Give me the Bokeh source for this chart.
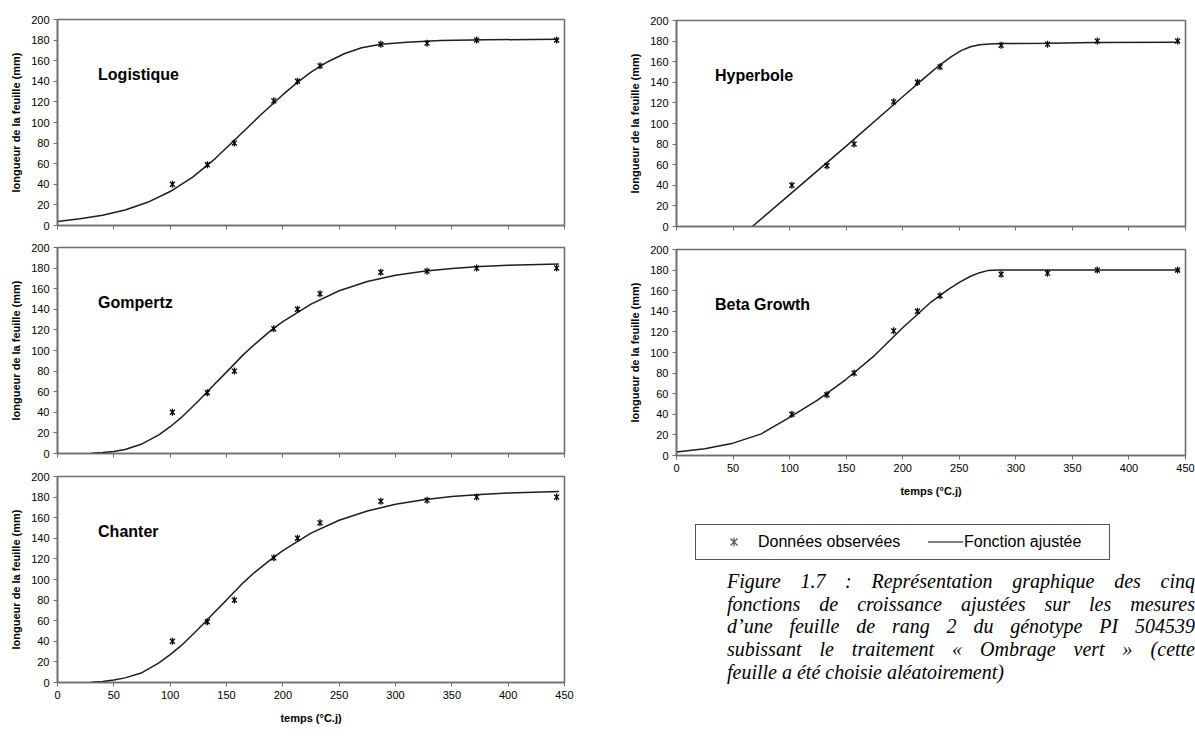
import math
from bokeh.plotting import figure
from bokeh.models import Range1d, FixedTicker, Label, Div
from bokeh.layouts import column, row
from bokeh.embed import file_html
from bokeh.resources import INLINE

# ---------------- data ----------------
obs_x = [102, 133, 157, 192, 213, 233, 287, 328, 372, 443]
obs_y = [40, 59, 80, 121, 140, 155, 176, 177, 180, 180]

log_x = [0, 20, 40, 60, 80, 100, 120, 140, 160, 180, 200, 213, 225, 240, 255, 270, 287, 310, 340, 380, 445]
log_y = [4, 6.5, 10, 15, 22.5, 33, 47, 65, 86, 107, 127, 139, 149, 159, 167, 172.5, 176, 178, 179.5, 180.3, 180.8]

gomp_x = [30, 40, 50, 60, 75, 90, 100, 110, 125, 140, 150, 165, 175, 190, 200, 225, 250, 275, 300, 325, 350, 375, 400, 445]
gomp_y = [0.3, 0.9, 2, 3.9, 9.3, 18, 26, 35, 51, 68, 79, 96, 106, 120, 128, 145, 158, 167, 173, 177, 179.7, 181.5, 182.7, 184]

chan_x = [30, 40, 50, 60, 75, 90, 100, 110, 125, 140, 150, 165, 175, 190, 200, 225, 250, 275, 300, 325, 350, 375, 400, 445]
chan_y = [0.3, 1, 2.5, 4.5, 9.5, 19, 27, 36, 52, 69, 80, 97, 107, 120, 128, 145, 157.5, 166.5, 173, 177.5, 180.5, 182.5, 184, 185.5]

hyp_x = [67, 100, 150, 200, 220, 233, 243, 252, 260, 268, 277, 290, 330, 370, 445]
hyp_y = [0, 31, 78, 126, 145, 157, 165, 171, 174.5, 176.5, 177.3, 177.6, 178, 178.6, 179]

beta_x = [0, 25, 50, 75, 100, 125, 150, 175, 200, 225, 240, 250, 260, 268, 275, 285, 445]
beta_y = [3.5, 6.5, 12, 21, 37, 54, 74, 97, 124, 149, 161, 168, 174, 177.5, 179.5, 180, 180]

x_ticks = [0, 50, 100, 150, 200, 250, 300, 350, 400, 450]
y_ticks = [0, 20, 40, 60, 80, 100, 120, 140, 160, 180, 200]

y_label = "longueur de la feuille (mm)"
x_label = "temps (°C.j)"
legend_labels = ["Données observées", "Fonction ajustée"]
caption_lines = [
    "Figure 1.7 : Représentation graphique des cinq",
    "fonctions de croissance ajustées sur les mesures",
    "d’une feuille de rang 2 du génotype PI 504539",
    "subissant le traitement « Ombrage vert » (cette",
    "feuille a été choisie aléatoirement)",
]

FONT = "Liberation Sans"
FRAME_COL = "#6e6e6e"


def make_panel(name, fx, fy, frame_w, bl, br, bt, bb, show_x, title_x):
    p = figure(frame_width=frame_w, frame_height=206,
               x_range=Range1d(0, 450), y_range=Range1d(0, 200),
               output_backend="svg", toolbar_location=None, title=None,
               min_border_left=bl, min_border_right=br,
               min_border_top=bt, min_border_bottom=bb)
    p.xgrid.visible = False
    p.ygrid.visible = False
    p.outline_line_color = FRAME_COL
    p.outline_line_width = 1.6
    p.background_fill_color = "white"
    p.border_fill_color = "white"
    for ax in (p.xaxis[0], p.yaxis[0]):
        ax.axis_line_color = FRAME_COL
        ax.axis_line_width = 1.6
        ax.major_tick_line_color = FRAME_COL
        ax.major_tick_in = 0
        ax.major_tick_out = 4
        ax.minor_tick_line_color = None
        ax.major_label_text_font = FONT
        ax.major_label_text_font_size = "11px"
        ax.major_label_text_color = "black"
        ax.axis_label_text_font = FONT
        ax.axis_label_text_font_size = "11px"
        ax.axis_label_text_font_style = "bold"
        ax.axis_label_text_color = "black"
    p.xaxis.ticker = FixedTicker(ticks=x_ticks)
    p.yaxis.ticker = FixedTicker(ticks=y_ticks)
    p.yaxis.major_label_standoff = 4
    p.yaxis.axis_label = y_label
    p.yaxis.axis_label_standoff = 6
    if show_x:
        p.xaxis.major_label_standoff = 4
        p.xaxis.axis_label = x_label
        p.xaxis.axis_label_standoff = 10
    else:
        # tick marks only, no labels
        p.xaxis.major_label_standoff = 0
        p.xaxis.major_label_text_font_size = "1px"
        p.xaxis.major_label_text_color = None

    p.line(fx, fy, line_color="#1e1e1e", line_width=1.5)
    p.scatter(obs_x, obs_y, marker="x", size=7, line_color="black", line_width=1.3)
    p.scatter(obs_x, obs_y, marker="dash", angle=math.pi / 2, size=7,
              line_color="black", line_width=1.3)
    p.add_layout(Label(x=title_x, y=147, text=name, text_font=FONT,
                       text_font_size="16px", text_font_style="bold",
                       text_baseline="middle", text_color="black"))
    return p


# left column (the page has no body margin: it is included in the borders)
p1 = make_panel("Logistique", log_x, log_y, 507, 57, 12, 19, 11, False, 36)
p2 = make_panel("Gompertz", gomp_x, gomp_y, 507, 57, 12, 11, 11, False, 36)
p3 = make_panel("Chanter", chan_x, chan_y, 507, 57, 12, 12, 46, True, 36)

# right column
p4 = make_panel("Hyperbole", hyp_x, hyp_y, 509, 100, 10, 20, 11, False, 34)
p5 = make_panel("Beta Growth", beta_x, beta_y, 509, 100, 10, 12, 46, True, 34)

# legend (shared by all panels), as an HTML block below the Beta Growth panel
marker_svg = ('<svg width="12" height="12" viewBox="0 0 12 12" style="display:block">'
              '<path d="M2.5 2.5 L9.5 9.5 M9.5 2.5 L2.5 9.5 M6 1.5 L6 10.5" '
              'stroke="#555" stroke-width="1.2" fill="none"/></svg>')
abs_mid = "position:absolute;top:50%;transform:translateY(-50%);"
legend_html = (
    '<div style="position:relative;margin-left:114px;margin-top:18px;width:415px;height:36px;'
    'box-sizing:border-box;border:1px solid #555;background:#fff;'
    f'font-family:\'{FONT}\',sans-serif;font-size:16px;color:#000;">'
    f'<div style="{abs_mid}left:32px;">{marker_svg}</div>'
    f'<div style="{abs_mid}left:62px;white-space:nowrap;">{legend_labels[0]}</div>'
    f'<div style="{abs_mid}left:232px;width:35px;height:0;border-top:1.4px solid #000;"></div>'
    f'<div style="{abs_mid}left:268px;white-space:nowrap;">{legend_labels[1]}</div>'
    '</div>')
leg = Div(text=legend_html, width=619, height=54)

lines_html = ""
for i, ln in enumerate(caption_lines):
    last = "justify" if i < len(caption_lines) - 1 else "left"
    lines_html += (f'<div style="text-align:justify;text-align-last:{last};'
                   f'white-space:normal;">{ln}</div>')
caption_html = ('<div style="margin-left:146px;width:468px;'
                'font-family:\'Liberation Serif\',serif;font-style:italic;'
                'font-size:20px;line-height:22.7px;padding-top:0px;color:#000;">'
                + lines_html + '</div>')
cap = Div(text=caption_html, width=619, height=150, styles={"overflow": "hidden"})

left = column(p1, p2, p3)
right = column(p4, p5, leg, cap)
layout = row(left, right)

open("out.html", "w").write(file_html(layout, INLINE))
